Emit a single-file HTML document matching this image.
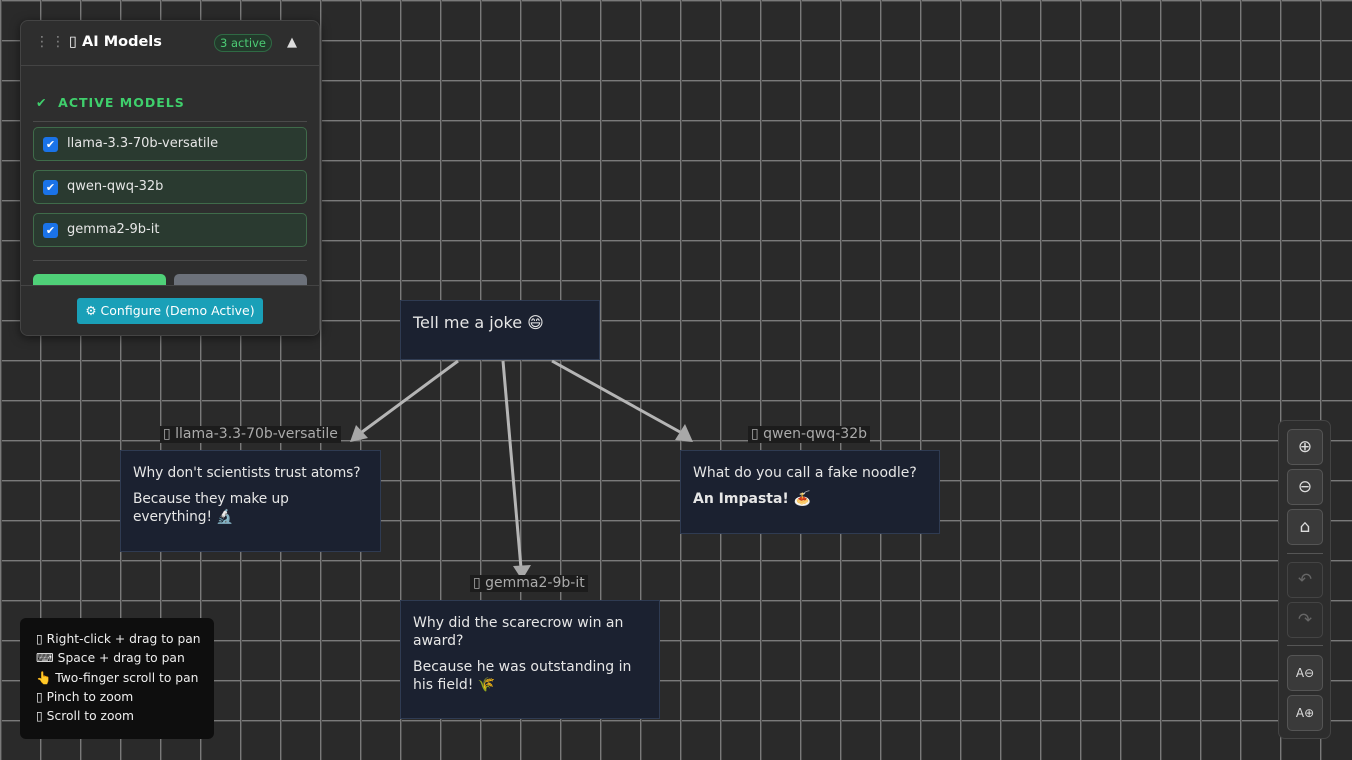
<!DOCTYPE html>
<html><head><meta charset="utf-8"><style>
*{box-sizing:border-box;margin:0;padding:0}
body{width:1352px;height:760px;overflow:hidden;position:relative;font-family:"DejaVu Sans","Liberation Sans","Noto Sans CJK SC",sans-serif;
background-color:#2a2a2a;
background-image:linear-gradient(to right,#7a7a7a 0 1px,#4a4a4a 1px 2px,transparent 2px),linear-gradient(to bottom,#7a7a7a 0 1px,#4a4a4a 1px 2px,transparent 2px);
background-size:40px 40px;background-position:0px 0px}
.abs{position:absolute}
.node{position:absolute;background:#1b2130;border:1px solid #2f3b52;color:#e6e6e6;font-size:14px;padding:13px 12px;line-height:18px}
.node p{margin-bottom:8px}
.lbl{position:absolute;background:#1c1c1c;color:#aaa;font-size:14px;padding:0 3px;line-height:17px}
.panel{left:20px;top:20px;width:300px;height:316px;background:#2e2e2e;border:1px solid #444;border-radius:8px;overflow:hidden;box-shadow:0 2px 10px rgba(0,0,0,.5)}
.item{position:absolute;left:12px;width:274px;height:34px;background:#2a3a30;border:1px solid #3f6b4a;border-radius:5px;color:#e6e6e6;font-size:13px;line-height:32px;padding-left:33px}
.cb{position:absolute;left:9px;top:9px;width:15px;height:15px;background:#1a73e8;border-radius:3px;color:#fff;font-size:11px;line-height:15px;text-align:center}
.ctl{position:absolute;left:1278px;top:420px;width:53px;height:319px;background:#2d2d2d;border:1px solid #444;border-radius:7px}
.btn{position:absolute;left:8px;width:36px;height:36px;background:#3a3a3a;border:1px solid #555;border-radius:5px;color:#ddd;text-align:center;line-height:34px;font-size:17px}
.btn.dis{background:#2f2f2f;color:#666;border-color:#444}
</style></head><body>
<svg class="abs" style="left:0;top:0" width="1352" height="760">
<g stroke="#b5b5b5" stroke-width="3" fill="none">
<line x1="458" y1="361" x2="362" y2="432"/>
<line x1="503" y1="361" x2="521" y2="568"/>
<line x1="552" y1="361" x2="680" y2="432"/>
</g>
<g fill="#a8a8a8">
<polygon points="350,442 356,425 368,438"/>
<polygon points="522,580 513,566 531,565"/>
<polygon points="693,442 675,440 685,424"/>
</g>
</svg>
<div class="node" style="left:400px;top:300px;width:200px;height:60px;font-size:16px;padding-top:13px">Tell me a joke 😄</div>
<div class="lbl" style="left:160px;top:426px">▯ llama-3.3-70b-versatile</div>
<div class="node" style="left:120px;top:450px;width:261px;height:102px;font-size:13.8px;letter-spacing:-0.1px"><p>Why don't scientists trust atoms?</p>Because they make up everything! 🔬</div>
<div class="lbl" style="left:748px;top:426px">▯ qwen-qwq-32b</div>
<div class="node" style="left:680px;top:450px;width:260px;height:84px"><p>What do you call a fake noodle?</p><b>An Impasta! 🍝</b></div>
<div class="lbl" style="left:470px;top:575px">▯ gemma2-9b-it</div>
<div class="node" style="left:400px;top:600px;width:260px;height:119px"><p>Why did the scarecrow win an award?</p>Because he was outstanding in his field! 🌾</div>

<div class="abs panel">
 <div class="abs" style="left:0;top:0;width:300px;height:45px;border-bottom:1px solid #444"></div>
 <div class="abs" style="left:14px;top:13px;color:#888;font-size:14px;letter-spacing:2px">⋮⋮</div>
 <div class="abs" style="left:48px;top:13px;color:#fff;font-size:14.5px;font-weight:bold">▯ AI Models</div>
 <div class="abs" style="left:193px;top:13px;width:58px;height:18px;border:1px solid #2f6a44;background:#23392b;border-radius:9px;color:#4ccb74;font-size:11.5px;text-align:center;line-height:16px">3 active</div>
 <div class="abs" style="left:266px;top:14px;color:#ddd;font-size:13px">▲</div>
 <div class="abs" style="left:15px;top:74px;color:#3fcf6c;font-size:12.5px;font-weight:bold;letter-spacing:1px">✔&nbsp; ACTIVE MODELS</div>
 <div class="abs" style="left:12px;top:100px;width:274px;height:1px;background:#4a4a4a"></div>
 <div class="item" style="top:106px"><span class="cb">✔</span>llama-3.3-70b-versatile</div>
 <div class="item" style="top:149px"><span class="cb">✔</span>qwen-qwq-32b</div>
 <div class="item" style="top:192px"><span class="cb">✔</span>gemma2-9b-it</div>
 <div class="abs" style="left:12px;top:239px;width:274px;height:1px;background:#4a4a4a"></div>
 <div class="abs" style="left:12px;top:253px;width:133px;height:20px;background:#4fd078;border-radius:5px 5px 0 0"></div>
 <div class="abs" style="left:153px;top:253px;width:133px;height:20px;background:#6c717a;border-radius:5px 5px 0 0"></div>
 <div class="abs" style="left:0;top:264px;width:300px;height:52px;background:#2e2e2e;border-top:1px solid #444"></div>
 <div class="abs" style="left:56px;top:277px;width:186px;height:26px;background:#1aa0b8;border-radius:3px;color:#fff;font-size:12.5px;text-align:center;line-height:26px">⚙ Configure (Demo Active)</div>
</div>

<div class="abs" style="left:20px;top:618px;width:194px;height:121px;background:#0e0e0e;border-radius:6px;color:#eee;font-size:12.3px;line-height:19.3px;padding:12px 0 0 16px;white-space:nowrap">
▯ Right-click + drag to pan<br>⌨ Space + drag to pan<br>👆 Two-finger scroll to pan<br>▯ Pinch to zoom<br>▯ Scroll to zoom</div>

<div class="ctl">
 <div class="btn" style="top:8px">⊕</div>
 <div class="btn" style="top:48px">⊖</div>
 <div class="btn" style="top:88px">⌂</div>
 <div class="abs" style="left:8px;top:132px;width:36px;height:1px;background:#555"></div>
 <div class="btn dis" style="top:141px">↶</div>
 <div class="btn dis" style="top:181px">↷</div>
 <div class="abs" style="left:8px;top:224px;width:36px;height:1px;background:#555"></div>
 <div class="btn" style="top:234px;font-size:12px">A⊖</div>
 <div class="btn" style="top:274px;font-size:12px">A⊕</div>
</div>
</body></html>
